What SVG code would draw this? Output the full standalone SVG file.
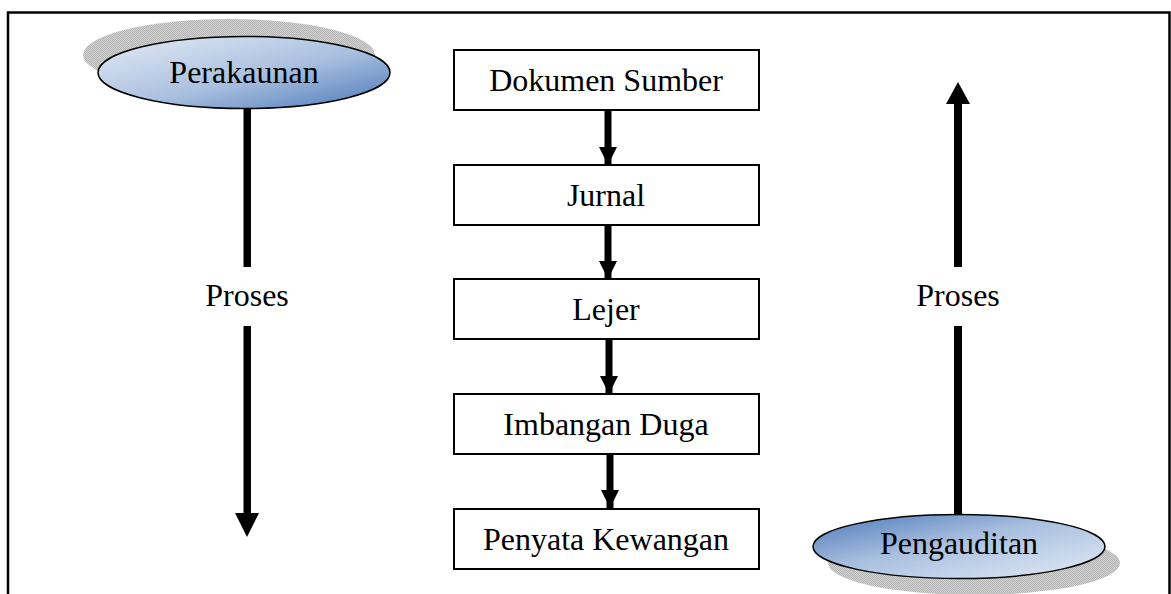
<svg xmlns="http://www.w3.org/2000/svg" width="1171" height="594" viewBox="0 0 1171 594">
<defs>
<linearGradient id="gA" x1="0" y1="0" x2="1" y2="1">
<stop offset="0" stop-color="#e4ecf6"/>
<stop offset="0.55" stop-color="#a9bfdf"/>
<stop offset="1" stop-color="#4a78b8"/>
</linearGradient>
<linearGradient id="gB" x1="0" y1="0" x2="1" y2="1">
<stop offset="0" stop-color="#4a78b8"/>
<stop offset="0.45" stop-color="#a9bfdf"/>
<stop offset="1" stop-color="#e4ecf6"/>
</linearGradient>
<pattern id="chk" width="2" height="2" patternUnits="userSpaceOnUse">
<rect width="2" height="2" fill="#d2d2d2"/>
<rect width="1" height="1" fill="#b4b4b4"/>
<rect x="1" y="1" width="1" height="1" fill="#b4b4b4"/>
</pattern>
<marker id="ah" viewBox="0 0 18 18" refX="18" refY="9" markerWidth="18" markerHeight="18" markerUnits="userSpaceOnUse" orient="auto">
<path d="M0,0 L18,9 L0,18 Z" fill="#000"/>
</marker>
</defs>
<style>
.t{font-family:"Liberation Serif","Times New Roman",serif;font-size:32px;fill:#000;text-anchor:middle}
.box{fill:#fff;stroke:#000;stroke-width:2}
.el{stroke:#000;stroke-width:1.5}
.sh{fill:url(#chk)}
.bar{fill:#000}
</style>
<rect width="1171" height="594" fill="#fff"/>
<path d="M8,594 L8,12.5 L1169.5,12.5 L1169.5,594" fill="none" stroke="#000" stroke-width="2.5"/>

<g id="connectors">
<line x1="608" y1="110" x2="608" y2="165" stroke="#000" stroke-width="7" marker-end="url(#ah)"/>
<line x1="608" y1="225" x2="608" y2="279" stroke="#000" stroke-width="7" marker-end="url(#ah)"/>
<line x1="609" y1="339" x2="609" y2="394" stroke="#000" stroke-width="7" marker-end="url(#ah)"/>
<line x1="610" y1="454" x2="610" y2="508" stroke="#000" stroke-width="7" marker-end="url(#ah)"/>
<g id="left-arrow">
<rect class="bar" x="243.5" y="100" width="7.5" height="167"/>
<rect class="bar" x="243.5" y="326" width="7.5" height="188"/>
<path d="M235,513 L259,513 L247,537 Z" class="bar"/>
</g>
<g id="right-arrow">
<rect class="bar" x="954" y="103" width="8" height="164"/>
<rect class="bar" x="954" y="326" width="8" height="190"/>
<path d="M946,104 L970,104 L958,82 Z" class="bar"/>
</g>
</g>

<g id="proses-left"><text class="t" x="247" y="306">Proses</text></g>
<g id="proses-right"><text class="t" x="958" y="306">Proses</text></g>

<g id="perakaunan">
<ellipse class="sh" cx="229" cy="55" rx="146" ry="36"/>
<ellipse class="el" cx="244" cy="72.5" rx="146" ry="36" fill="url(#gA)"/>
<text class="t" x="244" y="83">Perakaunan</text>
</g>

<g id="pengauditan">
<ellipse class="sh" cx="974" cy="563" rx="146" ry="32"/>
<ellipse class="el" cx="959" cy="546.5" rx="146" ry="32" fill="url(#gB)"/>
<text class="t" x="959" y="554">Pengauditan</text>
</g>

<g id="dokumen-sumber"><rect class="box" x="454" y="50" width="305" height="60"/><text class="t" x="606" y="91">Dokumen Sumber</text></g>
<g id="jurnal"><rect class="box" x="454" y="165" width="305" height="60"/><text class="t" x="606" y="206">Jurnal</text></g>
<g id="lejer"><rect class="box" x="454" y="279" width="305" height="60"/><text class="t" x="606" y="320">Lejer</text></g>
<g id="imbangan-duga"><rect class="box" x="454" y="394" width="305" height="60"/><text class="t" x="606" y="435">Imbangan Duga</text></g>
<g id="penyata-kewangan"><rect class="box" x="454" y="509" width="305" height="60"/><text class="t" x="606" y="550">Penyata Kewangan</text></g>
</svg>
